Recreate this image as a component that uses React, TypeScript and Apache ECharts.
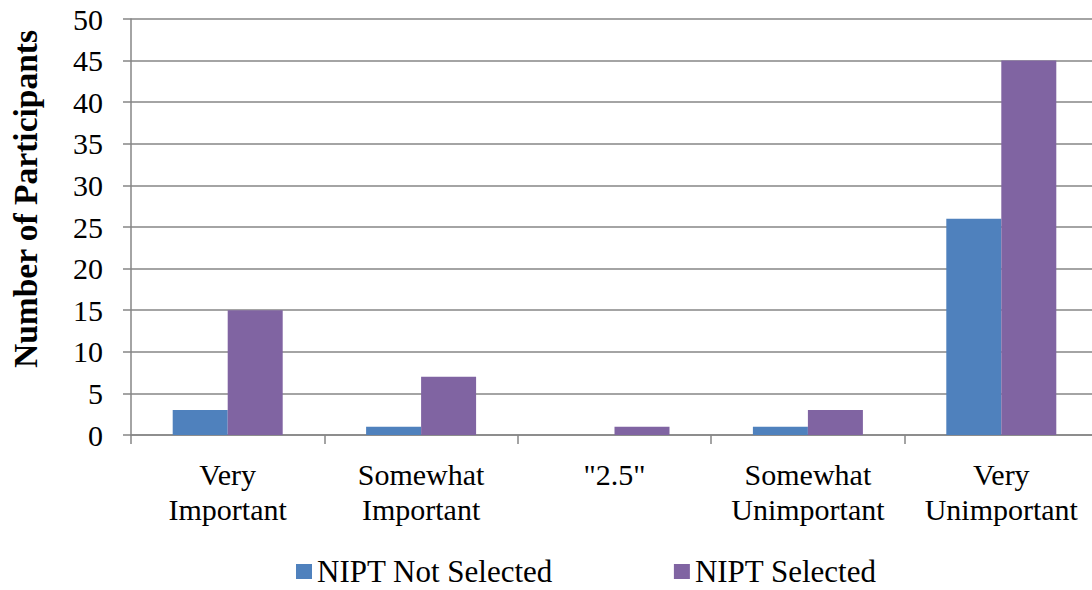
import React, { useEffect, useRef } from "react";
import * as echarts from "echarts";

const categories = ["Very\nImportant", "Somewhat\nImportant", "\"2.5\"", "Somewhat\nUnimportant", "Very\nUnimportant"];
const notSelected = [3, 1, 0, 1, 26];
const selected = [15, 7, 1, 3, 45];
const seriesNames = ["NIPT Not Selected", "NIPT Selected"];
const yAxisName = "Number of Participants";

const FONT = "Times New Roman, Liberation Serif, serif";
const GRID = "#868686";

export default function App() {
  const ref = useRef<HTMLDivElement>(null);
  useEffect(() => {
    const chart = echarts.init(ref.current!, null, { renderer: "svg", width: 1099, height: 590 });
    chart.setOption({
      animation: false,
      textStyle: { fontFamily: FONT },
      grid: { left: 131, width: 967, top: 19, bottom: 155, containLabel: false },
      graphic: [
        {
          type: "text",
          x: 25,
          y: 199,
          rotation: Math.PI / 2,
          style: {
            text: yAxisName,
            fontFamily: FONT,
            fontSize: 33.5,
            fontWeight: "bold",
            fill: "#000",
            align: "center",
            verticalAlign: "middle",
          },
        },
      ],
      legend: {
        top: 556,
        left: 296,
        padding: 0,
        itemWidth: 16,
        itemHeight: 15,
        itemGap: 121,
        icon: "rect",
        textStyle: { fontFamily: FONT, fontSize: 31, color: "#000", lineHeight: 31 },
        data: seriesNames,
      },
      xAxis: {
        type: "category",
        data: categories,
        axisLine: { show: true, lineStyle: { color: GRID, width: 1.5 } },
        axisTick: { show: true, alignWithLabel: false, length: 9, lineStyle: { color: GRID, width: 1.5 } },
        axisLabel: { fontFamily: FONT, fontSize: 30, color: "#000", lineHeight: 35, margin: 22, interval: 0 },
      },
      yAxis: {
        type: "value",
        min: 0,
        max: 50,
        interval: 5,
        axisLine: { show: true, lineStyle: { color: GRID, width: 1.5 } },
        axisTick: { show: true, length: 8, lineStyle: { color: GRID, width: 1.5 } },
        splitLine: { show: true, lineStyle: { color: GRID, width: 1.5 } },
        axisLabel: { fontFamily: FONT, fontSize: 30, color: "#000", margin: 28 },
      },
      series: [
        {
          name: seriesNames[0],
          type: "bar",
          data: notSelected,
          barWidth: 55,
          barGap: "0%",
          itemStyle: { color: "#4F81BD" },
        },
        {
          name: seriesNames[1],
          type: "bar",
          data: selected,
          barWidth: 55,
          barGap: "0%",
          itemStyle: { color: "#8064A2" },
        },
      ],
    });
    return () => chart.dispose();
  }, []);
  return (
    <div style={{ width: 1092, height: 590, position: "absolute", left: 0, top: 0, overflow: "hidden" }}>
      <div ref={ref} style={{ width: 1099, height: 590 }} />
    </div>
  );
}
